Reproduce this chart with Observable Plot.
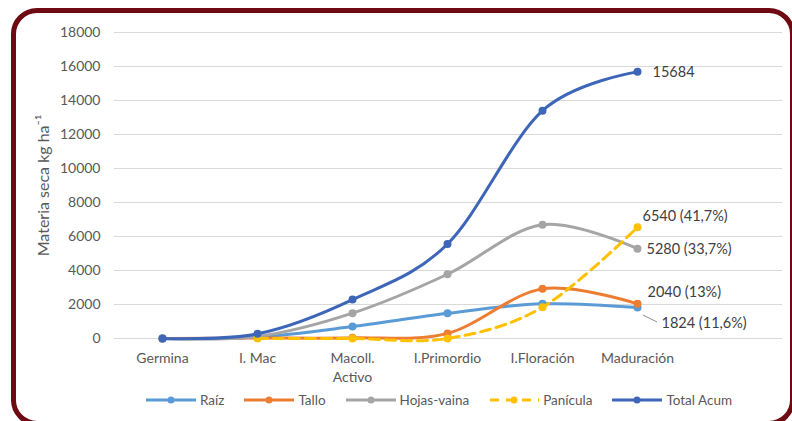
<!DOCTYPE html>
<html>
<head>
<meta charset="utf-8">
<script src="https://cdn.jsdelivr.net/npm/d3@7"></script>
<script src="https://cdn.jsdelivr.net/npm/@observablehq/plot@0.6"></script>
<style>
  html, body { margin: 0; padding: 0; background: #ffffff; }
  #chart { position: relative; width: 792px; height: 421px; overflow: hidden; font-family: Lato, "Open Sans", sans-serif; }
  #frame { position: absolute; left: 11px; top: 8px; width: 774px; height: 408px; border: 5px solid #6d0a12; border-radius: 26px; }
  #plot { position: absolute; left: 0; top: 0; }
  #legend { position: absolute; left: 145px; top: 392px; display: flex; gap: 19px; align-items: center; font-size: 13.5px; color: #595959; }
  .item { display: flex; align-items: center; gap: 3px; }
</style>
</head>
<body>
<div id="chart">
  <div id="frame"></div>
  <div id="plot"></div>
  <div id="legend"></div>
</div>
<script>
// Growth stages (x categories) and their axis labels
const stages = ["Germina", "I. Mac", "Macoll. Activo", "I.Primordio", "I.Floración", "Maduración"];
const stageLabels = ["Germina", "I. Mac", "Macoll.\nActivo", "I.Primordio", "I.Floración", "Maduración"];

// Dry matter per organ, kg/ha
const seriesNames = ["Raíz", "Tallo", "Hojas-vaina", "Panícula", "Total Acum"];
const raiz     = [0,  80,  700, 1480, 2040, 1824];
const tallo    = [0,  30,   40,  300, 2920, 2040];
const hojas    = [0, 120, 1490, 3780, 6690, 5280];
const panicula = [null, 0,   0,    0, 1840, 6540];
const total    = [0, 275, 2290, 5560, 13400, 15684];

// Share of the final total, as printed next to each series' last point
const finalShare = ["11,6%", "13%", "33,7%", "41,7%", ""];

const yTicks = [0, 2000, 4000, 6000, 8000, 10000, 12000, 14000, 16000, 18000];

const seriesValues = [raiz, tallo, hojas, panicula, total];
const colors = ["#5b9bd5", "#ed7d31", "#a5a5a5", "#ffc000", "#3d66b8"];
const dashes = [null, null, null, "10,6", null];

const rows = seriesNames.map((name, j) =>
  stages.map((stage, i) => ({serie: name, stage, value: seriesValues[j][i]}))
        .filter(d => d.value != null)
);

const lineMarks = rows.flatMap((data, j) => [
  Plot.line(data, {
    x: "stage", y: "value",
    stroke: colors[j], strokeWidth: 3,
    strokeDasharray: dashes[j] ?? undefined,
    curve: "cardinal", tension: 0
  }),
  Plot.dot(data, {x: "stage", y: "value", r: 4, fill: colors[j], stroke: "none"})
]);

// End-of-season value labels, one per series
const last = stages.length - 1;
const labelSpec = [
  {j: 4, dx: 15, dy: 0},
  {j: 3, dx: 5, dy: -11},
  {j: 2, dx: 9, dy: 1},
  {j: 1, dx: 10, dy: -11},
  {j: 0, dx: 24, dy: 16}
];
const labelMarks = labelSpec.map(({j, dx, dy}) => {
  const v = seriesValues[j][last];
  const share = finalShare[j];
  return Plot.text([{stage: stages[last], value: v}], {
    x: "stage", y: "value",
    text: () => share ? `${v} (${share})` : `${v}`,
    dx, dy, textAnchor: "start", fill: "#404040", fontSize: 14.5
  });
});

// Leader line from the Raíz end point to its label
const leader = (index, scales) => {
  const x0 = scales.x(stages[last]);
  const y0 = scales.y(raiz[last]);
  return d3.create("svg:line")
    .attr("x1", x0 + 6).attr("y1", y0 + 8)
    .attr("x2", x0 + 20).attr("y2", y0 + 15)
    .attr("stroke", "#8c8c8c").attr("stroke-width", 1)
    .node();
};

const chart = Plot.plot({
  width: 792,
  height: 385,
  marginLeft: 114,
  marginRight: 10,
  marginTop: 32,
  marginBottom: 47,
  style: {fontFamily: "Lato, 'Open Sans', sans-serif", fontSize: "14px", color: "#595959", background: "transparent", overflow: "visible"},
  x: {type: "point", domain: stages, padding: 1, align: 0.25},
  y: {domain: [0, 18000]},
  marks: [
    Plot.gridY(yTicks, {stroke: "#d9d9d9", strokeOpacity: 1, strokeWidth: 1}),
    Plot.axisY(yTicks, {
      tickSize: 0, tickPadding: 14, tickFormat: d => String(d),
      label: null, fontSize: 14
    }),
    Plot.axisY({
      ticks: [], tickSize: 0,
      label: "Materia seca kg ha⁻¹", labelAnchor: "center", labelArrow: "none", labelOffset: 77,
      fontSize: 16
    }),
    Plot.axisX({
      tickSize: 0, tickPadding: 12,
      tickFormat: d => stageLabels[stages.indexOf(d)],
      lineHeight: 1.3, label: null, fontSize: 14
    }),
    ...lineMarks,
    ...labelMarks,
    leader
  ]
});
document.getElementById("plot").appendChild(chart);

// Legend below the plot
const legend = d3.select("#legend");
seriesNames.forEach((name, j) => {
  const item = legend.append("div").attr("class", "item");
  const sw = item.append("svg").attr("width", 52).attr("height", 12);
  sw.append("line")
    .attr("x1", 1).attr("x2", 51).attr("y1", 6).attr("y2", 6)
    .attr("stroke", colors[j]).attr("stroke-width", 3)
    .attr("stroke-dasharray", dashes[j] ? "9,7" : null)
    .attr("stroke-dashoffset", dashes[j] ? -1 : null);
  sw.append("circle").attr("cx", 26).attr("cy", 6).attr("r", 3.5).attr("fill", colors[j]);
  item.append("span").text(name);
});
</script>
</body>
</html>
